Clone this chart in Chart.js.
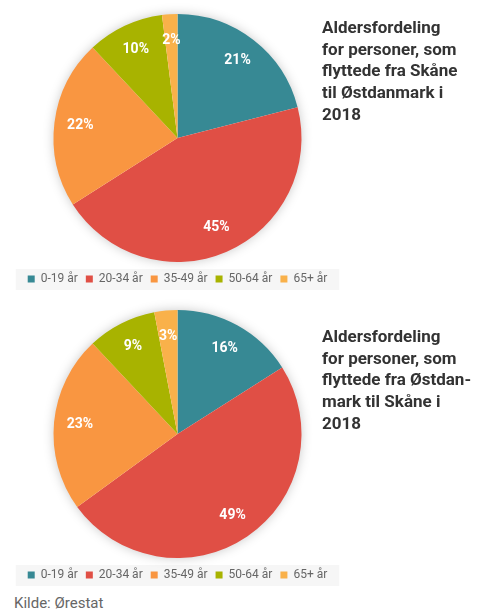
<!DOCTYPE html>
<html>
<head>
<meta charset="utf-8">
<script src="https://cdn.jsdelivr.net/npm/chart.js@4.4.1/dist/chart.umd.min.js"></script>
<style>
  body { margin: 0; background: #fff; }
  #wrap { position: relative; width: 487px; height: 612px; overflow: hidden; }
  canvas { position: absolute; left: 0; }
  .title {
    position: absolute; left: 322px; width: 165px;
    font-family: Roboto, 'Noto Sans', sans-serif; font-weight: 700;
    font-size: 17px; line-height: 21.7px; color: #333;
  }
  .source {
    position: absolute; left: 14px; top: 594px;
    font-family: Roboto, 'Noto Sans', sans-serif; font-size: 15px; color: #666;
  }
</style>
</head>
<body>
<div id="wrap">
  <canvas id="pie-1" width="355" height="296" style="top:0"></canvas>
  <canvas id="pie-2" width="355" height="296" style="top:296px"></canvas>
  <div class="title" style="top:17px">Aldersfordeling<br>for personer, som<br>flyttede fra Skåne<br>til Østdanmark i<br>2018</div>
  <div class="title" style="top:326px">Aldersfordeling<br>for personer, som<br>flyttede fra Østdan-<br>mark til Skåne i<br>2018</div>
  <div class="source">Kilde: Ørestat</div>
</div>
<script>
const ageGroups   = ['0-19 år', '20-34 år', '35-49 år', '50-64 år', '65+ år'];
const skaneToOst  = [21, 45, 22, 10, 2];
const ostToSkane  = [16, 49, 23, 9, 3];
const sliceColors = ['#378994', '#E04F45', '#F99641', '#A8B300', '#F9B14A'];

// soft shadow under the pie + grey band behind the legend
const backdrop = {
  id: 'backdrop',
  beforeDraw(chart) {
    const boxes = chart.legend && chart.legend.legendHitBoxes;
    if (!boxes || !boxes.length) return;
    const ctx = chart.ctx;
    const left  = Math.min(...boxes.map(b => b.left)) - 12;
    const right = Math.max(...boxes.map(b => b.left + b.width)) + 12;
    const top   = boxes[0].top - 4;
    const h     = boxes[0].height + 9;
    ctx.save();
    ctx.fillStyle = '#F6F6F6';
    ctx.fillRect(left, top, right - left, h);
    ctx.restore();
  },
  beforeDatasetsDraw(chart) {
    const arc = chart.getDatasetMeta(0).data[0];
    if (!arc) return;
    const ctx = chart.ctx;
    ctx.save();
    ctx.shadowColor = 'rgba(0,0,0,0.25)';
    ctx.shadowBlur = 12;
    ctx.fillStyle = '#fff';
    ctx.beginPath();
    ctx.arc(arc.x, arc.y, arc.outerRadius - 1, 0, Math.PI * 2);
    ctx.fill();
    ctx.restore();
  }
};

// percentage labels inside the slices
const sliceLabels = {
  id: 'sliceLabels',
  afterDatasetsDraw(chart) {
    const ctx = chart.ctx;
    const values = chart.data.datasets[0].data;
    ctx.save();
    ctx.fillStyle = '#fff';
    ctx.font = 'bold 14px Roboto, sans-serif';
    ctx.textAlign = 'center';
    ctx.textBaseline = 'middle';
    chart.getDatasetMeta(0).data.forEach((arc, i) => {
      const mid = (arc.startAngle + arc.endAngle) / 2;
      const r = arc.outerRadius * 0.79;
      ctx.fillText(values[i] + '%', arc.x + Math.cos(mid) * r, arc.y + Math.sin(mid) * r);
    });
    ctx.restore();
  }
};

function makePie(id, values) {
  return new Chart(document.getElementById(id), {
    type: 'pie',
    data: {
      labels: ageGroups,
      datasets: [{ data: values, backgroundColor: sliceColors, borderWidth: 0, radius: 124 }],
    },
    options: {
      responsive: false,
      animation: false,
      layout: { padding: { top: 11, bottom: 1 } },
      plugins: {
        legend: {
          position: 'bottom',
          labels: {
            boxWidth: 7, boxHeight: 7, padding: 8, color: '#666',
            font: { family: 'Roboto, sans-serif', size: 12 },
          },
        },
        tooltip: { enabled: false },
      },
    },
    plugins: [backdrop, sliceLabels],
  });
}

makePie('pie-1', skaneToOst);
makePie('pie-2', ostToSkane);
</script>
</body>
</html>
